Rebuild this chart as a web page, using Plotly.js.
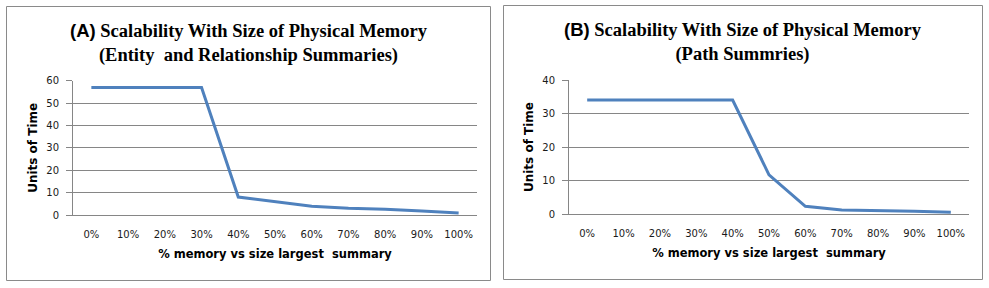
<!DOCTYPE html>
<html><head><meta charset="utf-8">
<script src="https://cdn.plot.ly/plotly-3.0.1.min.js"></script>
<style>html,body{margin:0;padding:0;background:#fff;}#chart{width:989px;height:288px;}</style>
</head><body><div id="chart"></div>
<script>
const categories = ["0%","10%","20%","30%","40%","50%","60%","70%","80%","90%","100%"];
const entityRelTime = [57,57,57,57,8,5.8,3.9,3,2.6,1.8,0.9];
const pathTime = [34,34,34,34,34,11.7,2.3,1.2,1.1,0.8,0.5];
const yTicksA = [0,10,20,30,40,50,60];
const yTicksB = [0,10,20,30,40];

const lineColor = '#4F81BD';
const gridColor = '#868686';
const tickFont = {family:'DejaVu Sans', size:10, color:'#1a1a1a'};
const axTitleFont = {family:'DejaVu Sans', size:11.5, color:'#000', weight:'bold'};

const traces = [
  {x:categories, y:entityRelTime, type:'scatter', mode:'lines', line:{color:lineColor, width:3}, xaxis:'x', yaxis:'y', hoverinfo:'skip'},
  {x:categories, y:pathTime, type:'scatter', mode:'lines', line:{color:lineColor, width:3}, xaxis:'x2', yaxis:'y2', hoverinfo:'skip'}
];

function xax(domain, anchor){
  return {domain:domain, anchor:anchor, type:'category', range:[-0.5, categories.length-0.5], showgrid:false, zeroline:false,
    showline:true, linecolor:gridColor, linewidth:1, ticks:'outside', ticklen:10, tickcolor:'rgba(0,0,0,0)',
    tickfont:tickFont, fixedrange:true,
    title:{text:'% memory vs size largest  summary', font:axTitleFont, standoff:10}};
}
function yax(domain, anchor, range, vals){
  return {domain:domain, anchor:anchor, range:range, tickvals:vals, showgrid:true, gridcolor:gridColor, gridwidth:1,
    zeroline:false, showline:true, linecolor:gridColor, linewidth:1, ticks:'outside', ticklen:6, tickcolor:gridColor,
    tickfont:tickFont, fixedrange:true, ticklabelstandoff:5,
    title:{text:'Units of Time', font:{family:'DejaVu Sans', size:12, color:'#000', weight:'bold'}, standoff:6}};
}

const serif = "font-family:'Liberation Serif',serif;";
const sans = "font-family:'Liberation Sans',sans-serif;";
const H = 288, W = 989;
const layout = {
  width:W, height:H, margin:{l:0,r:0,t:0,b:0}, showlegend:false,
  paper_bgcolor:'#fff', plot_bgcolor:'#fff',
  xaxis: xax([73/W, 477/W], 'y'),
  yaxis: yax([(H-215)/H, (H-80.7)/H], 'x', [0,60], yTicksA),
  xaxis2: xax([569/W, 969/W], 'y2'),
  yaxis2: yax([(H-214)/H, (H-80)/H], 'x2', [0,40], yTicksB),
  shapes:[
    {type:'rect', xref:'paper', yref:'paper', x0:6.5/W, x1:490.5/W, y0:(H-280.5)/H, y1:(H-6.5)/H, line:{color:'#8a8a8a', width:1}},
    {type:'rect', xref:'paper', yref:'paper', x0:503.5/W, x1:982.5/W, y0:(H-279.5)/H, y1:(H-5.5)/H, line:{color:'#8a8a8a', width:1}}
  ],
  annotations:[
    {xref:'paper', yref:'paper', x:249/W, y:(H-43)/H, xanchor:'center', yanchor:'middle', showarrow:false, align:'center',
     font:{family:'Liberation Serif', size:18.5, color:'#000', weight:'bold'},
     text:"<span style=\""+sans+"\">(A)</span><span style=\""+serif+"\"> Scalability With Size of Physical Memory</span><br><span style=\""+serif+"\">(Entity  and Relationship Summaries)</span>"},
    {xref:'paper', yref:'paper', x:743/W, y:(H-41.5)/H, xanchor:'center', yanchor:'middle', showarrow:false, align:'center',
     font:{family:'Liberation Serif', size:18.5, color:'#000', weight:'bold'},
     text:"<span style=\""+sans+"\">(B)</span><span style=\""+serif+"\"> Scalability With Size of Physical Memory</span><br><span style=\""+serif+"\">(Path Summries)</span>"}
  ]
};
Plotly.newPlot('chart', traces, layout, {staticPlot:true, displayModeBar:false});
</script></body></html>
